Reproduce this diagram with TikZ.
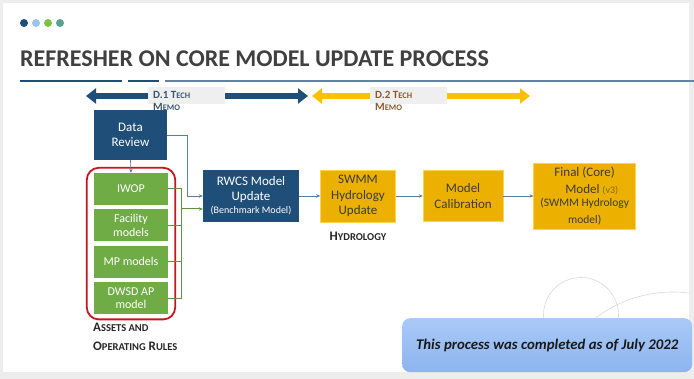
\documentclass[tikz,border=0pt]{standalone}
\usepackage{fontspec}
\setmainfont{Carlito}
\usetikzlibrary{arrows.meta,positioning,fit}
\definecolor{navy}{HTML}{1F4E79}
\definecolor{sky}{HTML}{9DC3E6}
\definecolor{sprout}{HTML}{7DC242}
\definecolor{sea}{HTML}{5B9E94}
\definecolor{leaf}{HTML}{6FAC46}
\definecolor{amber}{HTML}{EBB000}
\definecolor{gold}{HTML}{FFC000}
\definecolor{wire}{HTML}{5A7DA3}
\definecolor{frame}{HTML}{C3161E}
\definecolor{ink}{HTML}{3C3C3C}
\definecolor{memogrey}{HTML}{EFEFEF}
\definecolor{memoblue}{HTML}{3A5674}
\definecolor{memobrown}{HTML}{8A5A2E}
\definecolor{notetop}{HTML}{A9CAF8}
\definecolor{notebottom}{HTML}{8DB4EF}
\newcommand{\fakesc}[2]{{\fontsize{#1}{#1}\selectfont #2}}
\tikzset{
	bluebox/.style={fill=navy, text=white, align=center, inner sep=1pt, font=\fontsize{13}{15}\selectfont},
	greenbox/.style={fill=leaf, text=white, align=center, inner sep=1pt, minimum width=74pt, minimum height=32pt, font=\fontsize{12}{13.5}\selectfont},
	goldbox/.style={fill=amber, draw=gold!70, line width=0.6pt, text=ink, align=center, inner sep=1pt, font=\fontsize{13}{15.5}\selectfont},
	flow/.style={-{Stealth[length=4pt,width=3.5pt]}, wire, line width=0.7pt},
	feed/.style={leaf!85!black, line width=1pt},
	memo/.style={line width=6pt, {Triangle[length=10pt,width=15pt]}-{Triangle[length=10pt,width=15pt]}},
}

\begin{document}
\begin{tikzpicture}[x=1pt, y=-1pt]

	\useasboundingbox (0,0) rectangle (694,379);
	\fill[black!7] (0,0) rectangle (694,379);
	\fill[white] (3,3) rectangle (689,372);
	\begin{scope}
		\clip (3,3) rectangle (689,372);
		\draw[black!15, line width=0.6pt] (581,315) circle[radius=37.5];
		\draw[black!15, line width=0.6pt] (673,420) circle[radius=128];
	\end{scope}

	\foreach \c [count=\i] in {navy,sky,sprout,sea}
		\fill[\c] (12+12*\i,23) circle[radius=4];

	\node[anchor=base west, inner sep=0, text=black!75, font=\fontsize{24}{24}\selectfont\bfseries] (title) at (20,67) {REFRESHER ON CORE MODEL UPDATE PROCESS};
	\draw[navy, line width=2.5pt] (20,81) -- (122,81);
	\draw[navy, line width=2.5pt] (128,81) -- (159,81);
	\draw[navy!70, line width=1.2pt] (165,81) -- (694,81);

	% tech memo spans
	\draw[memo, navy] (86,96) -- (308,96);
	\draw[memo, gold] (312,96) -- (530,96);
	\node[fill=memogrey, minimum width=77pt, minimum height=17pt, anchor=north west, inner sep=0] (m1) at (148,87) {};
	\node[fill=memogrey, minimum width=77pt, minimum height=17pt, anchor=north west, inner sep=0] (m2) at (370,87) {};
	\node[anchor=north west, align=left, inner sep=0, text=memoblue, font=\fontsize{11}{12.5}\selectfont\bfseries] (lm1) at (153,91) {D.1 T\fakesc{8.5}{ECH}\\M\fakesc{8.5}{EMO}};
	\node[anchor=north west, align=left, inner sep=0, text=memobrown, font=\fontsize{11}{12.5}\selectfont\bfseries] (lm2) at (375,91) {D.2 T\fakesc{8.5}{ECH}\\M\fakesc{8.5}{EMO}};

	% inputs
	\node[bluebox, minimum width=73pt, minimum height=50pt] (data) at (130.5,135) {Data\\Review};
	\node[greenbox] (iwop) at (131,189) {IWOP};
	\node[greenbox, below=4pt of iwop] (facility) {Facility\\models};
	\node[greenbox, below=4pt of facility] (mp) {MP models};
	\node[greenbox, below=4pt of mp] (dwsd) {DWSD AP\\model};
	\node[draw=frame, line width=1.8pt, rounded corners=12pt, inner xsep=7pt, inner ysep=5pt, fit=(iwop)(dwsd)] (assets) {};
	\node[anchor=north west, align=left, inner sep=0, text=black!85, font=\fontsize{13}{19}\selectfont\bfseries] (lassets) at (93,323) {A\fakesc{10.5}{SSETS AND}\\O\fakesc{10.5}{PERATING} R\fakesc{10.5}{ULES}};

	% model chain
	\node[bluebox, minimum width=96pt, minimum height=52pt] (rwcs) at (251,196) {RWCS Model\\Update\\[-2pt]\fontsize{10}{11}\selectfont(Benchmark Model)};
	\node[goldbox, minimum width=75pt, minimum height=52pt, right=21pt of rwcs] (swmm) {SWMM\\Hydrology\\Update};
	\node[goldbox, minimum width=80pt, minimum height=51pt, right=27pt of swmm] (calib) {Model\\Calibration};
	\node[goldbox, minimum width=102pt, minimum height=66pt, right=30pt of calib, font=\fontsize{13}{17}\selectfont] (final) {Final (Core)\\\hspace*{14pt}Model {\fontsize{10}{11}\selectfont\color{black!40!amber}(v3)}\\[-4pt]\fontsize{11.5}{13}\selectfont(SWMM Hydrology\\\fontsize{11.5}{13}\selectfont model)};
	\node[anchor=base, inner sep=0, text=black!85, font=\fontsize{13}{13}\selectfont\bfseries] (lhydro) at (358,241) {H\fakesc{10.5}{YDROLOGY}};

	\draw[flow] (data.south) -- (iwop.north);
	\draw[flow] (data.east) -- ++(20,0) |- (rwcs.west);
	\coordinate (bus) at (181,209);
	\foreach \b in {iwop,facility,mp,dwsd}
		\draw[feed] (\b.east) -| (bus);
	\draw[feed, -{Stealth[length=4pt,width=3.5pt]}] (bus) -- (rwcs.west |- bus);
	\foreach \a/\b in {rwcs/swmm,swmm/calib,calib/final}
		\draw[flow] (\a.east) -- (\a.east -| \b.west);

	\node[rounded corners=8pt, top color=notetop, bottom color=notebottom, minimum width=290pt, minimum height=54pt, anchor=north west, inner sep=0, text=black!90, font=\fontsize{14.8}{16}\selectfont\bfseries\itshape] (note) at (402,318) {This process was completed as of July 2022};

\end{tikzpicture}
\end{document}
